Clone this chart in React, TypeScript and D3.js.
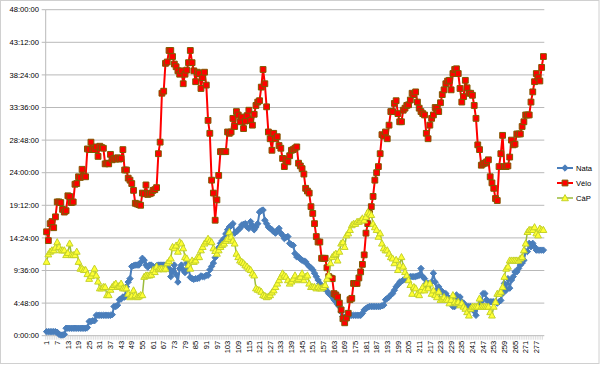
import * as d3 from "d3";

// values in hours, one per day (1..281)
const nata = [
  0.6, 0.6, 0.6, 0.6, 0.6, 0.6, 0.5, 0.2, 0.1, 0.1,
  0.2, 1.1, 1.1, 1.1, 1.1, 1.1, 1.1, 1.1, 1.1, 1.1,
  1.1, 1.1, 1.1, 1.2, 2.1, 2.1, 2.2, 2.2, 3.0, 3.0,
  3.0, 3.0, 3.0, 3.0, 3.0, 3.0, 3.0, 3.1, 4.3, 4.3,
  4.5, 5.3, 5.4, 5.7, 5.7, 7.2, 7.9, 8.4, 10.2, 10.3,
  10.4, 10.4, 10.4, 10.8, 11.4, 11.1, 10.4, 10.1, 10.4, 10.4,
  10.2, 9.9, 10.3, 10.4, 10.4, 10.4, 10.4, 10.4, 10.1, 9.9,
  8.7, 9.5, 10.4, 9.0, 7.9, 9.9, 10.4, 9.7, 9.3, 10.7,
  9.9, 8.6, 8.4, 8.3, 8.4, 8.4, 8.5, 8.8, 8.7, 8.7,
  8.9, 8.9, 9.7, 10.2, 10.7, 11.5, 12.6, 13.0, 13.6, 14.0,
  14.3, 15.0, 15.6, 16.0, 16.2, 16.5, 15.1, 15.3, 15.6, 15.8,
  16.3, 16.4, 16.5, 16.0, 15.8, 16.8, 16.2, 15.6, 16.0, 16.5,
  18.2, 18.4, 18.5, 17.0, 16.5, 16.0, 15.8, 15.6, 15.3, 15.1,
  15.5, 15.8, 15.1, 14.8, 14.3, 14.5, 14.6, 13.6, 13.4, 13.3,
  12.1, 11.6, 11.6, 11.3, 11.1, 11.0, 10.9, 10.5, 10.2, 10.0,
  9.7, 9.2, 8.7, 8.2, 7.7, 7.3, 7.0, 7.0, 6.6, 6.2,
  6.0, 5.7, 5.3, 5.0, 4.6, 4.3, 3.5, 2.8, 2.7, 2.6,
  2.8, 3.0, 3.0, 3.0, 3.0, 3.0, 3.0, 3.0, 3.3, 3.8,
  4.0, 4.2, 4.3, 4.3, 4.3, 4.3, 4.3, 4.3, 4.3, 4.4,
  4.5, 5.3, 5.5, 5.7, 6.0, 6.2, 6.7, 7.2, 7.5, 7.9,
  8.0, 8.2, 8.3, 8.4, 8.6, 8.7, 8.7, 8.7, 8.7, 8.8,
  8.9, 9.9, 8.7, 8.4, 7.7, 7.7, 7.7, 7.9, 9.2, 7.9,
  6.7, 7.2, 6.7, 6.5, 5.3, 6.2, 5.7, 5.5, 5.0, 4.3,
  4.3, 6.0, 5.5, 5.7, 5.0, 4.8, 4.3, 4.3, 4.3, 4.3,
  4.0, 3.6, 3.0, 4.3, 4.6, 5.0, 6.2, 6.2, 5.3, 5.0,
  5.0, 5.0, 5.0, 5.0, 4.8, 5.0, 5.2, 6.2, 7.7, 6.7,
  8.4, 7.0, 8.2, 8.7, 9.4, 9.4, 9.9, 10.4, 10.7, 11.1,
  12.4, 12.4, 13.6, 13.1, 13.6, 13.1, 12.6, 12.6, 12.6, 12.6,
  12.6,
];

const velo = [
  15.3, 14.0, 16.5, 16.8, 15.9, 17.5, 19.7, 19.7, 19.6, 18.6,
  18.2, 18.4, 20.6, 20.5, 19.6, 19.7, 22.3, 22.4, 23.4, 23.3,
  24.5, 23.5, 23.4, 27.5, 27.4, 28.5, 27.5, 27.4, 27.8, 26.4,
  27.9, 27.7, 27.6, 25.3, 25.4, 25.3, 26.7, 25.9, 26.1, 26.0,
  26.2, 26.0, 26.1, 27.4, 24.4, 24.4, 23.2, 22.9, 22.4, 21.4,
  19.5, 19.4, 19.3, 19.2, 21.0, 20.9, 22.2, 20.8, 20.9, 21.0,
  21.4, 21.5, 21.8, 26.8, 28.5, 35.7, 36.0, 40.1, 40.3, 42.0,
  42.0, 41.1, 40.0, 39.6, 39.0, 38.5, 39.0, 37.1, 38.5, 39.1,
  40.2, 42.0, 40.2, 39.0, 37.4, 38.8, 38.6, 36.4, 38.0, 38.8,
  36.9, 31.7, 29.8, 22.9, 21.0, 17.0, 20.0, 23.6, 27.1, 27.1,
  27.1, 27.1, 30.0, 29.8, 30.0, 32.0, 30.8, 33.0, 32.5, 31.5,
  32.2, 30.5, 31.6, 32.4, 33.2, 31.7, 31.0, 32.6, 33.9, 34.4,
  34.6, 36.6, 39.2, 37.1, 33.7, 30.0, 29.0, 27.3, 29.8, 29.0,
  29.3, 28.0, 27.6, 26.1, 24.9, 26.0, 25.6, 26.5, 27.3, 27.4,
  27.6, 27.8, 25.4, 25.0, 24.6, 23.8, 21.7, 21.3, 21.0, 19.0,
  18.0, 16.5, 14.6, 13.8, 13.8, 11.4, 11.4, 11.4, 10.0, 8.7,
  8.5, 8.4, 6.2, 6.0, 5.7, 4.8, 3.8, 2.5, 1.9, 2.6,
  3.3, 5.3, 5.5, 7.7, 7.7, 7.7, 8.5, 9.4, 10.5, 11.9,
  15.1, 16.5, 18.0, 19.0, 20.5, 22.9, 24.0, 24.9, 26.8, 29.6,
  29.4, 30.0, 29.0, 31.0, 33.0, 33.0, 34.2, 34.6, 32.7, 31.5,
  31.5, 33.2, 33.5, 33.9, 34.0, 34.7, 35.7, 35.5, 35.9, 34.4,
  33.5, 33.0, 32.7, 32.5, 29.8, 29.0, 31.0, 32.0, 32.5, 33.6,
  33.5, 33.0, 34.3, 35.5, 36.2, 37.1, 37.5, 37.6, 36.2, 38.6,
  39.2, 39.3, 38.6, 36.4, 34.4, 35.2, 37.6, 36.5, 35.7, 35.7,
  35.4, 33.9, 32.0, 28.1, 27.4, 25.1, 25.3, 25.4, 25.6, 25.9,
  23.4, 22.5, 21.7, 20.2, 19.9, 24.9, 26.8, 29.5, 24.9, 24.9,
  25.0, 26.3, 28.8, 28.1, 28.2, 29.7, 29.7, 29.7, 30.8, 31.5,
  32.5, 32.5, 32.5, 34.4, 35.9, 37.4, 38.6, 38.0, 37.5, 39.5,
  41.1,
];

const cap = [
  10.9, 12.0, 12.4, 12.6, 12.6, 13.0, 13.8, 13.1, 12.6, 12.6,
  12.6, 11.9, 12.2, 13.6, 11.9, 11.9, 11.9, 12.4, 10.9, 9.9,
  9.9, 9.7, 9.7, 9.1, 8.4, 8.8, 9.2, 9.9, 8.9, 8.0,
  7.0, 7.0, 7.2, 7.2, 6.0, 6.0, 6.8, 7.2, 7.5, 7.7,
  7.2, 7.4, 7.7, 7.0, 7.0, 7.0, 6.2, 5.7, 5.9, 6.7,
  6.0, 5.7, 5.8, 6.0, 6.0, 8.7, 8.9, 8.9, 8.9, 9.0,
  9.7, 9.4, 10.2, 9.8, 9.9, 9.9, 9.8, 9.9, 10.7, 11.0,
  11.4, 13.1, 12.9, 13.3, 12.4, 13.8, 13.6, 12.9, 11.6, 11.4,
  10.4, 9.9, 11.1, 10.9, 11.1, 11.6, 11.6, 12.6, 13.1, 13.6,
  13.9, 14.3, 14.0, 13.8, 12.9, 12.5, 12.1, 12.6, 13.1, 13.4,
  13.6, 14.0, 14.3, 15.3, 14.6, 14.0, 13.6, 12.1, 11.6, 11.1,
  10.9, 10.7, 10.4, 10.2, 9.9, 9.7, 9.2, 8.9, 7.0, 6.8,
  6.7, 6.5, 6.0, 5.9, 5.7, 5.8, 6.0, 6.4, 6.7, 7.2,
  7.7, 8.2, 8.7, 9.2, 8.9, 8.7, 8.2, 7.7, 8.0, 8.4,
  8.9, 8.2, 8.4, 8.7, 9.2, 8.2, 8.7, 8.9, 7.7, 7.2,
  7.2, 7.2, 7.0, 7.2, 7.0, 7.0, 7.2, 7.5, 8.4, 8.9,
  10.7, 11.6, 11.9, 12.1, 11.1, 12.4, 13.6, 13.8, 13.1, 14.8,
  15.1, 15.6, 16.3, 16.5, 16.5, 16.8, 16.8, 17.0, 17.3, 17.0,
  17.5, 18.2, 18.0, 17.8, 16.5, 16.0, 15.6, 14.6, 15.1, 13.6,
  12.9, 12.6, 12.6, 12.1, 11.6, 11.4, 10.7, 11.2, 9.7, 10.4,
  11.6, 10.2, 9.4, 8.9, 8.2, 7.5, 6.2, 7.2, 7.0, 6.2,
  6.0, 6.7, 7.2, 6.7, 7.7, 7.0, 7.7, 6.2, 6.7, 6.0,
  5.7, 6.5, 5.3, 5.5, 5.7, 5.3, 5.3, 4.8, 5.3, 6.0,
  5.0, 4.8, 5.0, 4.5, 4.8, 4.3, 4.0, 3.5, 3.0, 4.0,
  4.3, 4.3, 4.3, 4.3, 5.5, 4.3, 4.3, 4.3, 4.3, 4.3,
  3.5, 3.0, 4.3, 5.0, 6.2, 6.2, 6.5, 7.2, 8.7, 9.9,
  10.2, 11.1, 11.1, 11.1, 11.1, 11.1, 11.1, 11.4, 11.6, 12.6,
  13.6, 15.3, 15.6, 15.6, 15.6, 16.0, 15.1, 14.8, 15.8, 15.6,
  15.6,
];

const days = d3.range(1, nata.length + 1);
const yTicks = [0, 4.8, 9.6, 14.4, 19.2, 24, 28.8, 33.6, 38.4, 43.2, 48];
const labelEvery = 6;

const W = 600;
const H = 366;
const plot = { left: 45.7, right: 544.3, top: 9.7, bottom: 335.7 };
const font = "'Liberation Sans', Arial, sans-serif";

const fmt = (h: number) => {
  const hh = Math.floor(h + 1e-9);
  const mm = Math.round((h - hh) * 60);
  return `${hh}:${String(mm).padStart(2, "0")}:00`;
};

const diamond = (r: number) => `M0,${-r}L${r},0L0,${r}L${-r},0Z`;
const square = (r: number) => `M${-r},${-r}H${r}V${r}H${-r}Z`;
const triangle = (r: number) => `M0,${-r}L${r},${r * 0.8}L${-r},${r * 0.8}Z`;

const series = [
  { name: "Nata", values: nata, line: "#4a7ebb", fill: "#4a7ebb", stroke: "#4a7ebb", width: 2, marker: diamond(3.2) },
  { name: "Vélo", values: velo, line: "#ff0000", fill: "#ff0000", stroke: "#7f5a00", width: 2, marker: square(2.9) },
  { name: "CàP", values: cap, line: "#9bbb3a", fill: "#ffff33", stroke: "#c4d22a", width: 1.5, marker: triangle(3.4) },
];

export default function App() {
  const x = d3
    .scalePoint<number>()
    .domain(days)
    .range([plot.left, plot.right])
    .padding(0.5);
  const y = d3.scaleLinear().domain([0, 48]).range([plot.bottom, plot.top]);
  const step = x.step();

  const line = (vals: number[]) =>
    d3
      .line<number>()
      .x((_, i) => x(days[i]) as number)
      .y((d) => y(d))(vals) || "";

  return (
    <svg
      width={W}
      height={H}
      style={{ position: "absolute", left: 0, top: 0, background: "#fff" }}
      fontFamily={font}
    >
      <rect x={0.5} y={0.5} width={598.5} height={363} fill="#fff" stroke="#d0d0d0" />

      {/* gridlines + y labels */}
      {yTicks.map((t) => (
        <g key={t}>
          {t > 0 && (
            <line x1={plot.left} x2={plot.right} y1={y(t)} y2={y(t)} stroke="#b9b9b9" strokeWidth={1} />
          )}
          <line x1={plot.left - 4} x2={plot.left} y1={y(t)} y2={y(t)} stroke="#b9b9b9" />
          <text x={39} y={y(t)} dy="0.35em" textAnchor="end" fontSize={7.6} fill="#000">
            {fmt(t)}
          </text>
        </g>
      ))}

      {/* axes */}
      <line x1={plot.left} x2={plot.left} y1={plot.top} y2={plot.bottom} stroke="#b9b9b9" />
      <line x1={plot.left} x2={plot.right} y1={plot.bottom} y2={plot.bottom} stroke="#b9b9b9" />
      {days.map((d) => (
        <line
          key={d}
          x1={(x(d) as number) - step / 2}
          x2={(x(d) as number) - step / 2}
          y1={plot.bottom}
          y2={plot.bottom + 4}
          stroke="#c8c8c8"
          strokeWidth={0.6}
        />
      ))}
      {days
        .filter((d) => (d - 1) % labelEvery === 0)
        .map((d) => (
          <text
            key={d}
            transform={`translate(${x(d)},${plot.bottom + 5}) rotate(-90)`}
            textAnchor="end"
            dy="0.35em"
            fontSize={7.6}
            fill="#000"
          >
            {d}
          </text>
        ))}

      {/* series */}
      {series.map((s) => (
        <g key={s.name}>
          <path d={line(s.values)} fill="none" stroke={s.line} strokeWidth={s.width} strokeLinejoin="round" />
          {s.values.map((v, i) => (
            <path
              key={i}
              d={s.marker}
              transform={`translate(${x(days[i])},${y(v)})`}
              fill={s.fill}
              stroke={s.stroke}
              strokeWidth={1}
            />
          ))}
        </g>
      ))}

      {/* legend */}
      {series.map((s, i) => {
        const ly = 168 + i * 15;
        return (
          <g key={s.name}>
            <line x1={557} x2={573} y1={ly} y2={ly} stroke={s.line} strokeWidth={s.width} />
            <path d={s.marker} transform={`translate(565,${ly})`} fill={s.fill} stroke={s.stroke} strokeWidth={1} />
            <text x={576} y={ly} dy="0.35em" fontSize={7.6} fill="#000">
              {s.name}
            </text>
          </g>
        );
      })}
    </svg>
  );
}
